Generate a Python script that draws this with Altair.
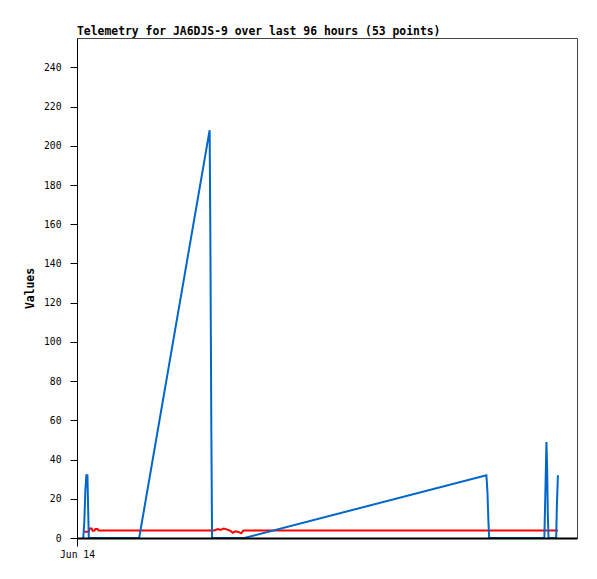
import altair as alt
import pandas as pd

# minutes after Jun 14 00:00 for each telemetry sample
minutes = [18, 21, 24, 27, 30, 32, 34, 36, 42, 45, 50, 53, 59, 62, 179,
           382, 384, 387, 389, 395, 406, 413, 423, 431, 441, 449, 456, 465,
           473, 479, 482, 1179, 1182, 1185, 1187, 1346, 1349, 1352, 1354,
           1356, 1358, 1380, 1382, 1385]
blue_vals = [0, 8, 24, 32, 32, 16, 0, 0, 0, 0, 0, 0, 0, 0, 0,
             208, 156, 52, 0, 0, 0, 0, 0, 0, 0, 0, 0, 0,
             0, 0, 0, 32, 24, 8, 0, 0, 24, 49, 36,
             12, 0, 0, 16, 32]
red_vals = [3.2, 3.2, 3.2, 3.2, 3.2, 3.2, 3.2, 4.8, 4.8, 3.7, 3.7, 4.6, 4.6, 3.8, 3.8,
            3.8, 3.8, 3.8, 3.8, 3.8, 4.6, 4.1, 4.8, 4.4, 3.7, 2.7, 3.4, 3.1,
            2.4, 3.8, 3.8, 3.8, 3.8, 3.8, 3.8, 3.8, 3.8, 3.8, 3.8,
            3.8, 3.8, 3.8, 3.8, 3.8]
y_ticks = [0, 20, 40, 60, 80, 100, 120, 140, 160, 180, 200, 220, 240]
title_text = "Telemetry for JA6DJS-9 over last 96 hours (53 points)"

start = pd.Timestamp("2024-06-14 00:00:00")
df = pd.DataFrame({
    "time": [start + pd.Timedelta(minutes=m) for m in minutes],
    "blue": blue_vals,
    "red": red_vals,
})

mono = "DejaVu Sans Mono"
d0 = alt.DateTime(year=2024, month=6, date=14, hours=0)
d1 = alt.DateTime(year=2024, month=6, date=15, hours=0)

xenc = alt.X("time:T",
             scale=alt.Scale(domain=[d0, d1]),
             axis=alt.Axis(values=[d0], format="%b %d", title=None, grid=False,
                           domainColor="black", domainWidth=2, tickColor="black",
                           tickSize=8, labelPadding=3, labelFlush=False,
                           labelFont=mono, labelFontSize=9.7, labelColor="black",
                           zindex=1))

yaxis = alt.Axis(values=y_ticks, title="Values", grid=False,
                 domainColor="black", domainWidth=1, tickColor="black",
                 tickSize=7, labelPadding=9, labelFont=mono, labelFontSize=9.7,
                 labelColor="black", titleFont=mono, titleFontSize=11.4,
                 titleFontWeight="bold", titleColor="black", titlePadding=8,
                 zindex=1)
yscale = alt.Scale(domain=[0, 255], nice=False)

red_line = alt.Chart(df).mark_line(color="#ff0000", strokeWidth=2).encode(
    x=xenc, y=alt.Y("red:Q", scale=yscale, axis=yaxis))
blue_line = alt.Chart(df).mark_line(color="#0066cc", strokeWidth=2).encode(
    x=xenc, y=alt.Y("blue:Q", scale=yscale, axis=yaxis))

chart = alt.layer(red_line, blue_line).properties(
    width=500, height=500,
    background="white",
    title=alt.TitleParams(title_text, anchor="start", frame="group",
                          font=mono, fontSize=11.4, fontWeight="bold",
                          color="black", baseline="alphabetic", offset=4, dy=12),
    autosize=alt.AutoSizeParams(type="none"),
    padding={"left": 69, "top": 30, "right": 12, "bottom": 25},
).configure_view(stroke="#444444", strokeWidth=1)

chart.save("out.html", embed_options={"renderer": "svg", "actions": False})
